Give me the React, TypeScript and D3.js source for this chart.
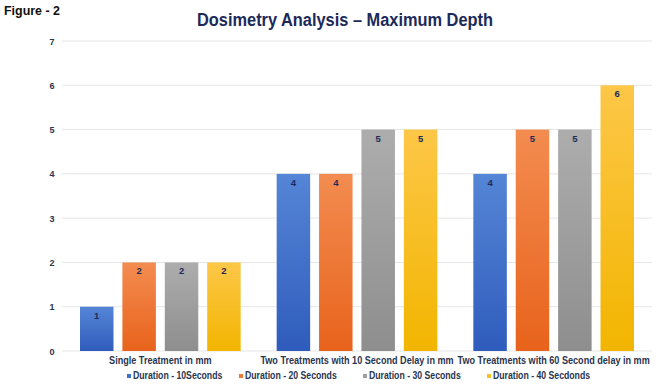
import React from 'react';
import * as d3 from 'd3';

const categories = [
  'Single Treatment in mm',
  'Two Treatments with 10 Second Delay in mm',
  'Two Treatments with 60 Second delay in mm',
];
const seriesNames = [
  'Duration - 10Seconds',
  'Duration - 20 Seconds',
  'Duration - 30 Seconds',
  'Duration - 40 Secdonds',
];
const dur10 = [1, 4, 4];
const dur20 = [2, 4, 5];
const dur30 = [2, 5, 5];
const dur40 = [2, 5, 6];
const yTicks = [0, 1, 2, 3, 4, 5, 6, 7];

const seriesValues = [dur10, dur20, dur30, dur40];
const gradients = [
  ['#5585d6', '#2f5cbc'],
  ['#f38c50', '#e8631c'],
  ['#adadad', '#8e8e8e'],
  ['#fdc748', '#f2b500'],
];
const legendColors = ['#3e6fcc', '#ee7a36', '#a0a0a0', '#f9c02a'];

const W = 661;
const H = 386;
const left = 62;
const right = 652;
const top = 41;
const bottom = 351;

// narrow bold look for the axis and legend labels
const catSqueeze = 0.91;
const legendSqueeze = 0.87;

export default function App() {
  const x0 = d3.scaleBand<string>().domain(categories).range([left, right]).padding(0);
  const x1 = d3
    .scaleBand<number>()
    .domain(d3.range(seriesNames.length))
    .range([18, x0.bandwidth() - 18])
    .paddingInner(0.21);
  const y = d3.scaleLinear().domain([0, 7]).range([bottom, top]);

  const font = "'Liberation Sans', Arial, sans-serif";
  const legendX = [127, 239, 363, 487];

  return (
    <svg width={W} height={H} style={{ position: 'absolute', left: 0, top: 0, background: '#fff' }} fontFamily={font}>
      <defs>
        {gradients.map((g, i) => (
          <linearGradient key={i} id={`grad${i}`} x1="0" y1="0" x2="0" y2="1">
            <stop offset="0%" stopColor={g[0]} />
            <stop offset="100%" stopColor={g[1]} />
          </linearGradient>
        ))}
      </defs>
      <rect width={W} height={H} fill="#fff" />
      <text x={4} y={15} fontSize={12} fontWeight="bold" fill="#111" textLength={56} lengthAdjust="spacingAndGlyphs">
        Figure - 2
      </text>
      <text
        x={345}
        y={26}
        fontSize={17.5}
        fontWeight="bold"
        fill="#1c2a5a"
        textAnchor="middle"
        textLength={296}
        lengthAdjust="spacingAndGlyphs"
      >
        Dosimetry Analysis – Maximum Depth
      </text>

      {yTicks.map((t) => (
        <g key={t}>
          <line x1={left} x2={right} y1={y(t)} y2={y(t)} stroke="#e6e6e6" strokeWidth={1} />
          <text x={52} y={y(t) + 3.5} fontSize={9} fontWeight="bold" fill="#2a3550" textAnchor="middle">
            {t}
          </text>
        </g>
      ))}

      {categories.map((c, ci) => (
        <g key={c} transform={`translate(${x0(c)},0)`}>
          {seriesValues.map((vals, si) => {
            const v = vals[ci];
            const bx = x1(si)!;
            return (
              <g key={si}>
                <rect x={bx} y={y(v)} width={x1.bandwidth()} height={y(0) - y(v)} fill={`url(#grad${si})`} />
                <text
                  x={bx + x1.bandwidth() / 2}
                  y={y(v) + 12}
                  fontSize={9.5}
                  fontWeight="bold"
                  fill="#1c2a5a"
                  textAnchor="middle"
                >
                  {v}
                </text>
              </g>
            );
          })}
        </g>
      ))}

      {categories.map((c) => (
        <text
          key={c}
          transform={`translate(${x0(c)! + x0.bandwidth() / 2},364) scale(${catSqueeze},1)`}
          fontSize={10}
          fontWeight="bold"
          fill="#2a3550"
          textAnchor="middle"
        >
          {c}
        </text>
      ))}

      {seriesNames.map((s, i) => (
        <g key={s}>
          <rect x={legendX[i]} y={374} width={4} height={4} fill={legendColors[i]} />
          <text
            transform={`translate(${legendX[i] + 6},379) scale(${legendSqueeze},1)`}
            fontSize={10}
            fontWeight="bold"
            fill="#2a3550"
          >
            {s}
          </text>
        </g>
      ))}
    </svg>
  );
}
